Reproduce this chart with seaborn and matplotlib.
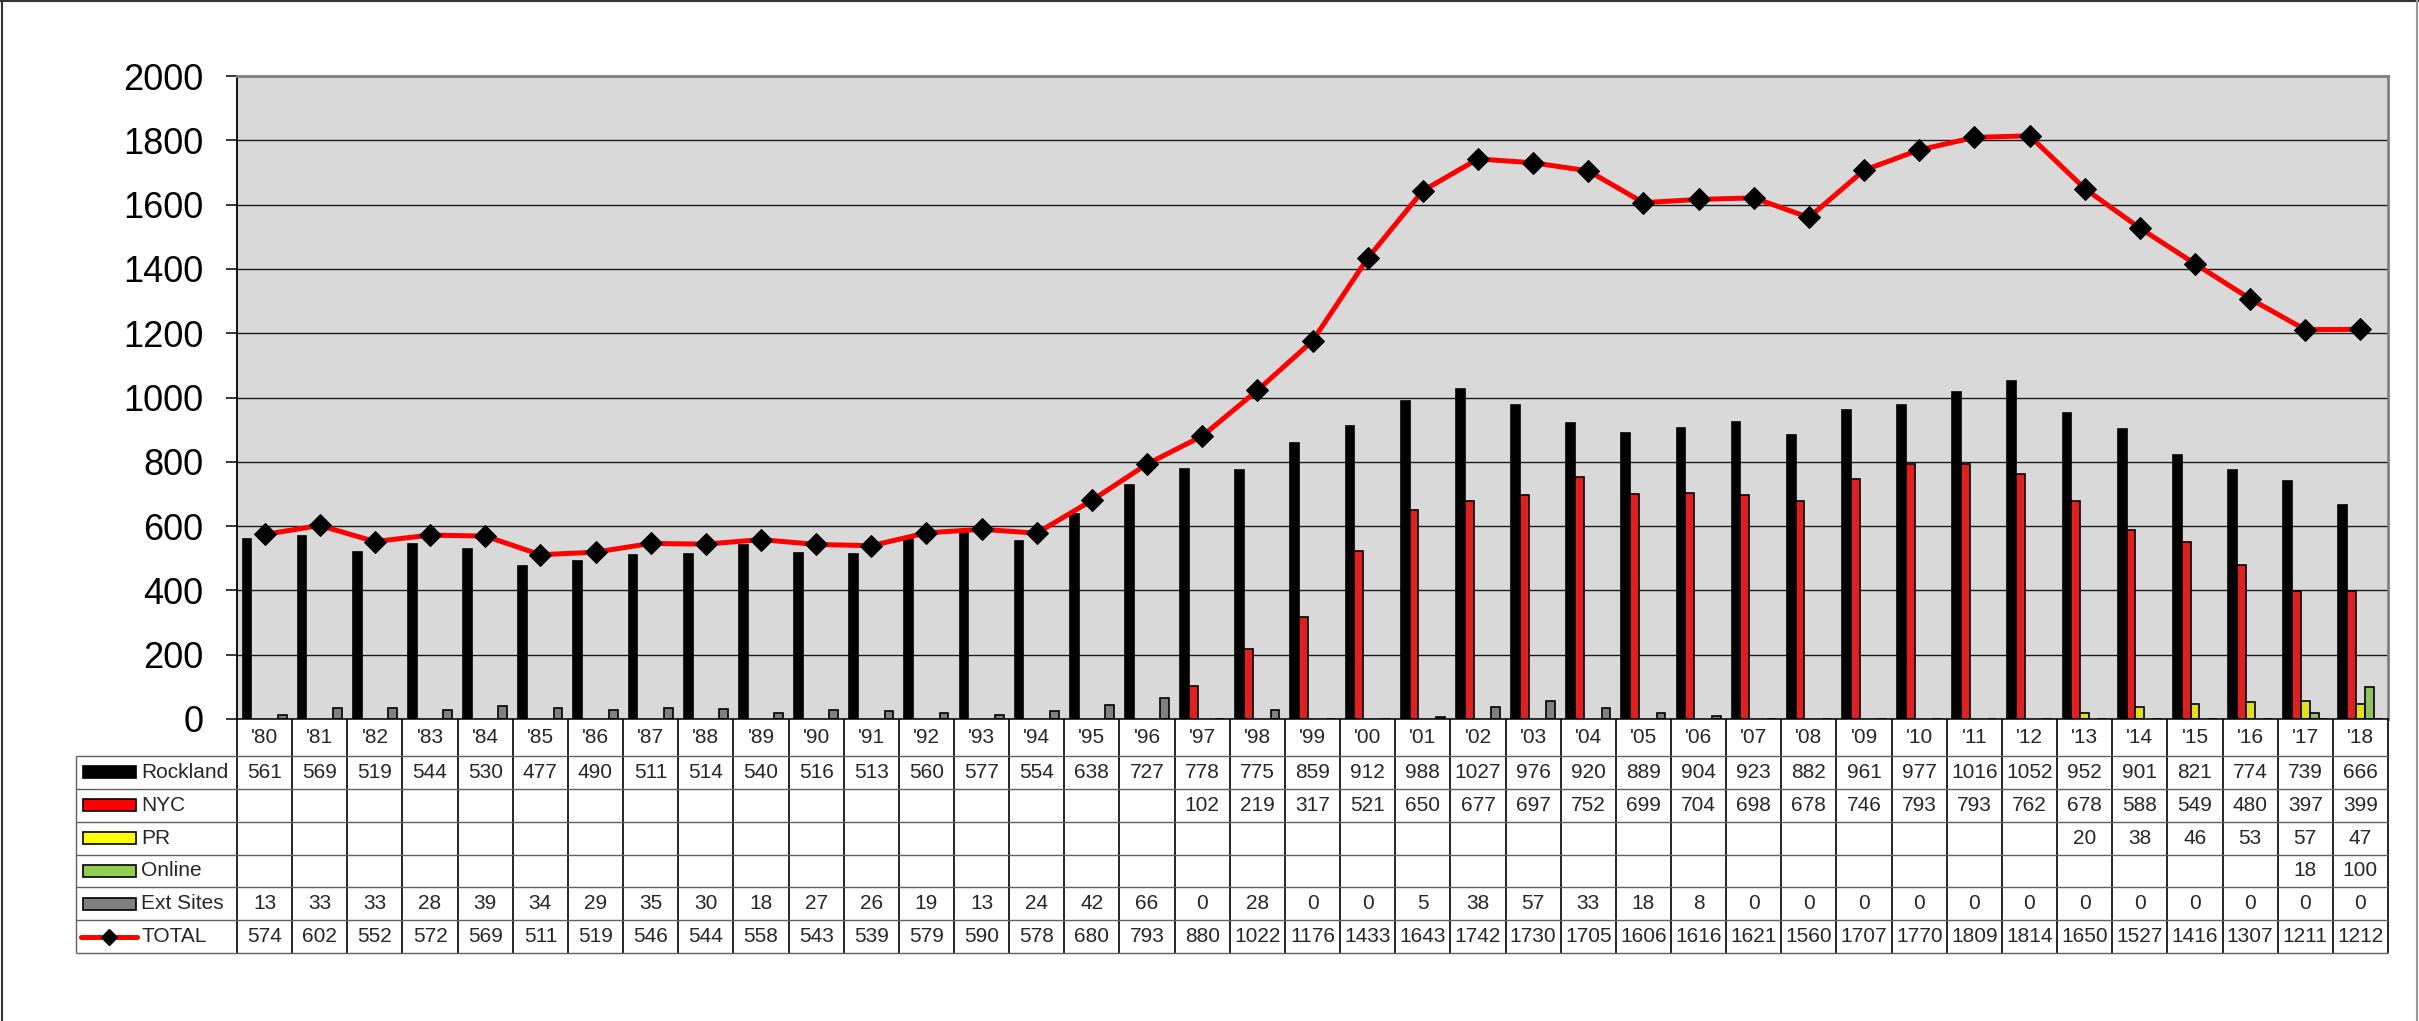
import numpy as np
import pandas as pd
import matplotlib
matplotlib.use("Agg")
import matplotlib.pyplot as plt
from matplotlib.patches import Rectangle
from matplotlib.lines import Line2D
import seaborn as sns

nan = np.nan

years = ["'80", "'81", "'82", "'83", "'84", "'85", "'86", "'87", "'88", "'89",
         "'90", "'91", "'92", "'93", "'94", "'95", "'96", "'97", "'98", "'99",
         "'00", "'01", "'02", "'03", "'04", "'05", "'06", "'07", "'08", "'09",
         "'10", "'11", "'12", "'13", "'14", "'15", "'16", "'17", "'18"]

rockland = [561, 569, 519, 544, 530, 477, 490, 511, 514, 540, 516, 513, 560, 577,
            554, 638, 727, 778, 775, 859, 912, 988, 1027, 976, 920, 889, 904, 923,
            882, 961, 977, 1016, 1052, 952, 901, 821, 774, 739, 666]
nyc = [nan] * 17 + [102, 219, 317, 521, 650, 677, 697, 752, 699, 704, 698, 678,
                    746, 793, 793, 762, 678, 588, 549, 480, 397, 399]
pr = [nan] * 33 + [20, 38, 46, 53, 57, 47]
online = [nan] * 37 + [18, 100]
ext_sites = [13, 33, 33, 28, 39, 34, 29, 35, 30, 18, 27, 26, 19, 13, 24, 42, 66,
             0, 28, 0, 0, 5, 38, 57, 33, 18, 8, 0, 0, 0, 0, 0, 0, 0, 0, 0, 0, 0, 0]
total = [574, 602, 552, 572, 569, 511, 519, 546, 544, 558, 543, 539, 579, 590, 578,
         680, 793, 880, 1022, 1176, 1433, 1643, 1742, 1730, 1705, 1606, 1616, 1621,
         1560, 1707, 1770, 1809, 1814, 1650, 1527, 1416, 1307, 1211, 1212]

series = ["Rockland", "NYC", "PR", "Online", "Ext Sites"]
colors = ["#000000", "#FF0000", "#FFFF00", "#92D050", "#808080"]
values = [rockland, nyc, pr, online, ext_sites]

sns.set_theme(style="white")
plt.rcParams["font.family"] = ["Liberation Sans", "DejaVu Sans"]

# long-form frame for seaborn
df = pd.DataFrame({
    "year": np.repeat([years], len(series), axis=0).ravel(),
    "series": np.repeat(series, len(years)),
    "value": np.concatenate(values),
}).dropna()

W, H = 2419, 1021
fig = plt.figure(figsize=(W / 100, H / 100), dpi=100)

# layout in pixels
px_left, px_right, px_top, px_base = 237, 2388, 76, 719
px_tab_left, px_tab_bottom = 76, 953
ppc = (px_right - px_left) / len(years)
row_px = (px_tab_bottom - 756) / 6
h0 = (756 - px_base) / row_px

ax = fig.add_axes([px_left / W, 1 - px_base / H,
                   (px_right - px_left) / W, (px_base - px_top) / H])
ax.set_facecolor("#D9D9D9")

sns.barplot(data=df, x="year", y="value", hue="series", order=years,
            hue_order=series, palette=colors, width=0.8, edgecolor="black",
            linewidth=1.2, errorbar=None, legend=False, ax=ax, zorder=2)

sns.lineplot(x=np.arange(len(years)), y=total, color="red", linewidth=3.6,
             marker="D", markersize=11, markerfacecolor="black",
             markeredgecolor="black", ax=ax, zorder=4)

ax.set_xlim(-0.5, len(years) - 0.5)
ax.set_ylim(0, 2000)
ax.set_yticks(np.arange(0, 2001, 200))
ax.set_xticks([])
ax.set_xlabel("")
ax.set_ylabel("")
ax.yaxis.grid(True, color="#1a1a1a", linewidth=1.0, zorder=0)
ax.set_axisbelow(True)
ax.tick_params(axis="y", labelsize=26, length=8, width=1.1, direction="out",
               pad=16, colors="black", left=True)
for s in ["top", "right"]:
    ax.spines[s].set_color("#808080")
    ax.spines[s].set_linewidth(2)
ax.spines["left"].set_color("black")
ax.spines["left"].set_linewidth(1.3)
ax.spines["bottom"].set_color("black")
ax.spines["bottom"].set_linewidth(1.1)

# data table underneath
legw = (px_left - px_tab_left) / ppc
tax = fig.add_axes([px_tab_left / W, 1 - px_tab_bottom / H,
                    (px_right - px_tab_left) / W, (px_tab_bottom - px_base) / H])
x0 = -0.5 - legw
tax.set_xlim(x0, len(years) - 0.5)
tax.set_ylim(h0 + 6, 0)
tax.axis("off")

n = len(years)
fs = 15
for i, yl in enumerate(years):
    tax.text(i, h0 / 2, yl, ha="center", va="center", fontsize=fs)

rows = values + [total]
labels = series + ["TOTAL"]
for r, vals in enumerate(rows):
    yc = h0 + r + 0.5
    for i, v in enumerate(vals):
        if not np.isnan(v):
            tax.text(i, yc, f"{int(v)}", ha="center", va="center", fontsize=fs)
    tax.text(x0 + 65 / ppc, yc, labels[r], ha="left", va="center", fontsize=fs)
    if r < len(series):
        kh = 12 / row_px
        tax.add_patch(Rectangle((x0 + 7 / ppc, yc - kh / 2), 53 / ppc, kh,
                                facecolor=colors[r], edgecolor="black",
                                linewidth=1.2, clip_on=False))
    else:
        tax.plot([x0 + 5 / ppc, x0 + 61 / ppc], [yc, yc], color="red",
                 linewidth=3.6, solid_capstyle="round", clip_on=False)
        tax.plot([x0 + 33 / ppc], [yc], marker="D", markersize=8, color="black",
                 clip_on=False)

tax.vlines(np.arange(n + 1) - 0.5, 0, h0 + 6, color="black", linewidth=1.2,
           clip_on=False)
tax.vlines([x0], h0, h0 + 6, color="#606060", linewidth=1, clip_on=False)
tax.hlines(h0 + np.arange(7), x0, n - 0.5, color="#606060", linewidth=1,
           clip_on=False)

# outer chart border: left, top, right
borders = [([2 / W, 2 / W], [0, 1], "#333333"),
           ([0, 1], [1 - 1 / H, 1 - 1 / H], "#333333"),
           ([2417 / W, 2417 / W], [0, 1], "#999999")]
for xs, ys, c in borders:
    fig.add_artist(Line2D(xs, ys, color=c, linewidth=1.5,
                          transform=fig.transFigure))

fig.savefig("out.png", dpi=100)
